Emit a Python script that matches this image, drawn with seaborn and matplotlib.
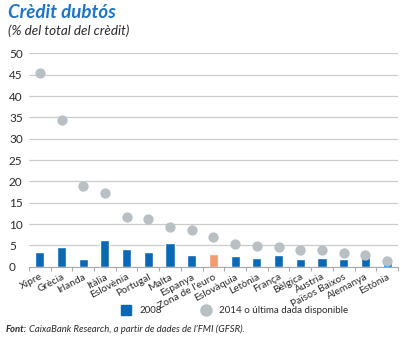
import matplotlib
matplotlib.use("Agg")
import matplotlib.pyplot as plt
import seaborn as sns
import pandas as pd
from matplotlib.lines import Line2D

countries = ["Xipre", "Grècia", "Irlanda", "Itàlia", "Eslovènia", "Portugal", "Malta",
             "Espanya", "Zona de l'euro", "Eslovàquia", "Letònia", "França", "Bèlgica",
             "Àustria", "Països Baixos", "Alemanya", "Estònia"]
v2008 = [3.5, 4.6, 1.9, 6.3, 4.2, 3.5, 5.5, 2.7, 3.0, 2.5, 2.1, 2.8, 1.7, 2.0, 1.7, 2.2, 0.8]
v2014 = [45.5, 34.3, 18.8, 17.2, 11.7, 11.1, 9.3, 8.5, 7.0, 5.3, 4.9, 4.5, 4.0, 3.9, 3.1, 2.7, 1.3]
yticks = [0, 5, 10, 15, 20, 25, 30, 35, 40, 45, 50]

BLUE = "#0A68B4"
ORANGE = "#F39A70"
GRAY = "#B9C0C4"
GRID = "#CCCCCC"
TEXT = "#2A2A2A"

sns.set_style("white")
plt.rcParams["font.family"] = ["Lato", "DejaVu Sans"]

df = pd.DataFrame({"pais": countries, "v2008": v2008, "v2014": v2014})
palette = {c: (ORANGE if c == "Zona de l'euro" else BLUE) for c in countries}

fig = plt.figure(figsize=(4.02, 3.38), dpi=100)
ax = fig.add_axes([0.072, 0.211, 0.918, 0.631])

sns.barplot(data=df, x="pais", y="v2008", hue="pais", palette=palette, order=countries,
            width=0.42, legend=False, ax=ax, zorder=2, saturation=1)
sns.stripplot(data=df, x="pais", y="v2014", order=countries, jitter=False, color=GRAY,
              size=7.4, linewidth=0, ax=ax, zorder=3)

ax.set_xlim(-0.5, len(countries) - 0.5)
ax.set_ylim(0, 50)
ax.set_yticks(yticks)
ax.yaxis.grid(True, color=GRID, linewidth=0.9, zorder=0)
ax.set_axisbelow(True)
for s in ["top", "right", "left"]:
    ax.spines[s].set_visible(False)
ax.spines["bottom"].set_color("#AAAAAA")
ax.spines["bottom"].set_linewidth(0.8)
ax.set_xlabel("")
ax.set_ylabel("")

ax.tick_params(axis="y", length=0, pad=14.4, labelsize=8.5, labelcolor=TEXT)
for lab in ax.get_yticklabels():
    lab.set_horizontalalignment("left")

ax.set_xticks(range(len(countries)))
ax.set_xticklabels(countries, rotation=28, ha="right", va="top", rotation_mode="anchor",
                   fontsize=7.4, color=TEXT)
ax.tick_params(axis="x", length=0, pad=4)
ax.set_xticks([i - 0.5 for i in range(len(countries) + 1)], minor=True)
ax.tick_params(axis="x", which="minor", length=3, color="#AAAAAA", width=0.8, direction="out")
ax.xaxis.set_ticks_position("bottom")

fig.text(0.02, 0.962, "Crèdit dubtós", fontsize=13.5, fontweight="bold", fontstyle="italic",
         color="#1F74C4", va="center", ha="left")
fig.text(0.02, 0.908, "(% del total del crèdit)", fontsize=9.7, fontstyle="italic",
         color=TEXT, va="center", ha="left")

handles = [Line2D([0], [0], marker="s", linestyle="", color=BLUE, markersize=6.5),
           Line2D([0], [0], marker="o", linestyle="", color=GRAY, markersize=8)]
fig.legend(handles, ["2008", "2014 o última dada disponible"], loc="center",
           bbox_to_anchor=(0.578, 0.08), ncol=2, frameon=False, fontsize=7,
           handletextpad=0.4, columnspacing=3.5, labelcolor=TEXT)

fig.text(0.015, 0.025, "Font:", fontsize=6.8, fontweight="bold", fontstyle="italic",
         color=TEXT, va="center", ha="left")
fig.text(0.071, 0.025, "CaixaBank Research, a partir de dades de l'FMI (GFSR).", fontsize=6.8,
         fontstyle="italic", color=TEXT, va="center", ha="left")

fig.savefig("out.png", dpi=100)
